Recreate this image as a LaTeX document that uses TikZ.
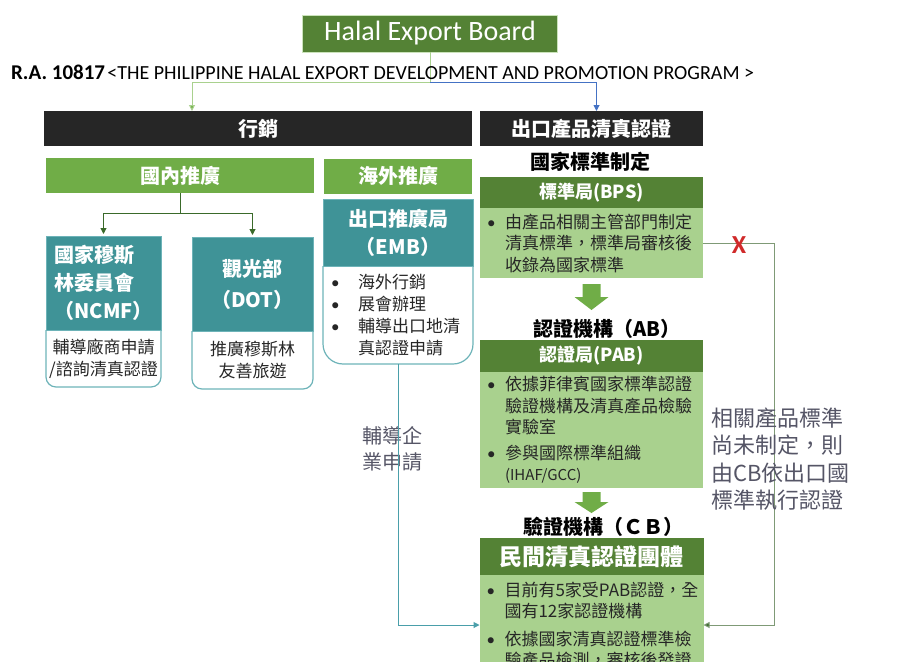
\documentclass[tikz,border=0pt]{standalone}
\usepackage{fontspec}
\setmainfont{Carlito}
\newfontfamily\cjk{Noto Sans CJK TC}
\usetikzlibrary{calc,arrows.meta}
\definecolor{dgreen}{HTML}{548235}
\definecolor{mgreen}{HTML}{70AD47}
\definecolor{lgreen}{HTML}{A9D18E}
\definecolor{tealbox}{HTML}{3F9397}
\definecolor{tealline}{HTML}{6DB3B8}
\definecolor{barblack}{HTML}{262626}
\definecolor{txt}{HTML}{262626}
\definecolor{sidegray}{HTML}{555566}
\definecolor{bluel}{HTML}{4472C4}
\definecolor{xred}{HTML}{D02A2A}
\definecolor{arrgreen}{HTML}{3A6A2A}
\definecolor{loopgray}{HTML}{7F9A76}
\definecolor{tealarr}{HTML}{4A9FAA}
\newcommand{\bl}[1][18pt]{\makebox[#1][l]{\rmfamily\textbullet}}
\newcommand{\ind}[1][18pt]{\hspace*{#1}}
\tikzset{
  plain/.style={inner sep=0pt, outer sep=0pt},
  bar/.style={plain, fill=barblack, text=white, minimum height=35pt,
    font=\cjk\bfseries\fontsize{20pt}{24pt}\selectfont},
  gbar/.style={plain, fill=mgreen, text=white, minimum height=35pt,
    font=\cjk\bfseries\fontsize{20pt}{24pt}\selectfont},
  tealhead/.style={plain, fill=tealbox, draw=tealline, line width=0.8pt, text=white,
    font=\cjk\bfseries\fontsize{20pt}{28pt}\selectfont},
  whitebody/.style={plain, text=txt, font=\cjk\fontsize{17pt}{22pt}\selectfont},
  ghead/.style={plain, fill=dgreen, text=white, font=\cjk\bfseries\fontsize{18pt}{22pt}\selectfont},
  gbody/.style={plain, fill=lgreen, text=txt, align=left, inner xsep=7pt, text width=209pt,
    font=\cjk\fontsize{17pt}{21.5pt}\selectfont},
  title/.style={plain, text=black, font=\cjk\bfseries\fontsize{20pt}{24pt}\selectfont},
  bodyline/.style={draw=tealline, line width=1.2pt},
  tip/.style={-{Triangle[length=6pt,width=6pt]}},
  blockarrow/.style={fill=mgreen, draw=none},
  side/.style={plain, text=sidegray, align=left}
}
\begin{document}
\begin{tikzpicture}[x=1pt,y=-1pt]
\useasboundingbox (0,0) rectangle (904,661);
\clip (0,0) rectangle (904,661);

% top
\node[plain, fill=dgreen, draw=lgreen!60, line width=0.8pt, minimum width=255pt, minimum height=37pt,
  text=white, font=\fontsize{28pt}{32pt}\selectfont] (board) at (430,33.5) {Halal Export Board};
\coordinate (jn) at (430,82);
\coordinate (xl) at (192,0);
\draw[lgreen, line width=1pt] (board.south) -- (jn);

\node[plain, anchor=west, text=black] (ra) at (11,72)
  {{\bfseries\fontsize{21pt}{24pt}\selectfont R.A. 10817}\ {\fontsize{20pt}{24pt}\selectfont <THE PHILIPPINE HALAL EXPORT DEVELOPMENT AND PROMOTION PROGRAM >}};

\node[bar, minimum width=428pt] (mkt) at (258,128.5) {行銷};
\node[bar, minimum width=223pt] (cert) at (591.5,128.5) {出口產品清真認證};

\draw[lgreen, line width=1pt, -{Triangle[length=6pt,width=6pt,fill=mgreen]}] (jn) -| (xl |- mkt.north);
\draw[bluel, line width=1pt, tip] (jn) -| ([xshift=5pt]cert.north);

% domestic
\node[gbar, minimum width=268pt] (dom) at (180,175.5) {國內推廣};
\node[gbar, minimum width=148pt] (ovs) at (398,176) {海外推廣};

\node[tealhead, minimum width=115pt, minimum height=94pt, align=left] (ncmf) at (103.5,283)
  {國家穆斯\\林委員會\\（NCMF）};
\node[whitebody, minimum width=115pt, minimum height=57pt, align=center] (ncmfb) at (103.5,358.5)
  {輔導廠商申請\\/諮詢清真認證};
\draw[bodyline, rounded corners=10pt] (ncmfb.north west) -- (ncmfb.south west) -- (ncmfb.south east) -- (ncmfb.north east);

\node[tealhead, minimum width=121pt, minimum height=94pt, align=center,
  font=\cjk\bfseries\fontsize{20pt}{31pt}\selectfont] (dot) at (252.5,284) {觀光部\\（DOT）};
\node[whitebody, minimum width=121pt, minimum height=58pt, align=center] (dotb) at (252.5,360)
  {推廣穆斯林\\友善旅遊};
\draw[bodyline, rounded corners=10pt] (dotb.north west) -- (dotb.south west) -- (dotb.south east) -- (dotb.north east);

\draw[arrgreen, line width=1pt, tip, shorten >=2pt] (dom.south) -- ++(0,20) -| (ncmf.north);
\draw[arrgreen, line width=1pt, tip, shorten >=2pt] (dom.south) -- ++(0,20) -| (dot.north);

% overseas
\node[tealhead, minimum width=150pt, minimum height=67pt, align=center] (emb) at (398,232.5)
  {出口推廣局\\（EMB）};
\node[whitebody, minimum width=150pt, minimum height=98pt, align=left, inner xsep=8pt, text width=134pt] (embb) at (398,315)
  {\bl[27pt]海外行銷\\\bl[27pt]展會辦理\\\bl[27pt]輔導出口地清\\\ind[27pt]真認證申請};
\draw[bodyline, rounded corners=20pt] (embb.north west) -- (embb.south west) -- (embb.south east) -- (embb.north east);

\node[side, font=\cjk\fontsize{20pt}{26pt}\selectfont, anchor=west] (lab1) at (362,449) {輔導企\\業申請};

% certification column
\node[title] (nstd) at (590,162) {國家標準制定};
\node[ghead, minimum width=223pt, minimum height=31pt] (bps) at (591.5,192.5) {標準局(BPS)};
\node[gbody, minimum height=70pt] (bpsb) at (591.5,243)
  {\bl 由產品相關主管部門制定\\\ind 清真標準，標準局審核後\\\ind 收錄為國家標準};

\fill[blockarrow] ($(bpsb.south)+(-9,6)$) -- ($(bpsb.south)+(9,6)$) -- ($(bpsb.south)+(9,19)$)
  -- ($(bpsb.south)+(17,19)$) -- ($(bpsb.south)+(0,32)$) -- ($(bpsb.south)+(-17,19)$)
  -- ($(bpsb.south)+(-9,19)$) -- cycle;

\node[title] (ab) at (607,329) {認證機構（AB）};
\node[ghead, minimum width=223pt, minimum height=32pt] (pab) at (591.5,356) {認證局(PAB)};
\node[gbody, minimum height=116pt] (pabb) at (591.5,430)
  {\bl 依據菲律賓國家標準認證\\\ind 驗證機構及清真產品檢驗\\\ind 實驗室\\[4pt]\bl 參與國際標準組織\\\ind{\fontsize{15pt}{21.5pt}\selectfont (IHAF/GCC)}};

\fill[blockarrow] ($(pabb.south)+(-9,4)$) -- ($(pabb.south)+(9,4)$) -- ($(pabb.south)+(9,14)$)
  -- ($(pabb.south)+(17,14)$) -- ($(pabb.south)+(0,25)$) -- ($(pabb.south)+(-17,14)$)
  -- ($(pabb.south)+(-9,14)$) -- cycle;

\node[title] (cbt) at (603,527) {驗證機構（ＣＢ）};
\node[ghead, minimum width=224pt, minimum height=37pt, font=\cjk\bfseries\fontsize{23pt}{26pt}\selectfont] (cb) at (591.5,556.5) {民間清真認證團體};
\node[gbody, minimum height=100pt, text width=210pt] (cbb) at (591.5,625)
  {\bl 目前有5家受PAB認證，全\\\ind 國有12家認證機構\\[6pt]\bl 依據國家清真認證標準檢\\\ind 驗產品檢測，審核後發證};

% loops
\draw[tealarr, line width=1pt, tip] (embb.south) |- (cbb.west);
\draw[loopgray, line width=1pt, -{Triangle[length=6pt,width=6pt,fill=arrgreen]}] (bpsb.east) -- ++(71,0) |- (cbb.east);
\node[plain, text=xred, font=\bfseries\fontsize{26pt}{30pt}\selectfont] (xmark) at (739,245) {X};

\node[side, font=\cjk\fontsize{22pt}{27.4pt}\selectfont, anchor=west] (lab2) at (711,459)
  {相關產品標準\\尚未制定，則\\由CB依出口國\\標準執行認證};
\end{tikzpicture}
\end{document}
